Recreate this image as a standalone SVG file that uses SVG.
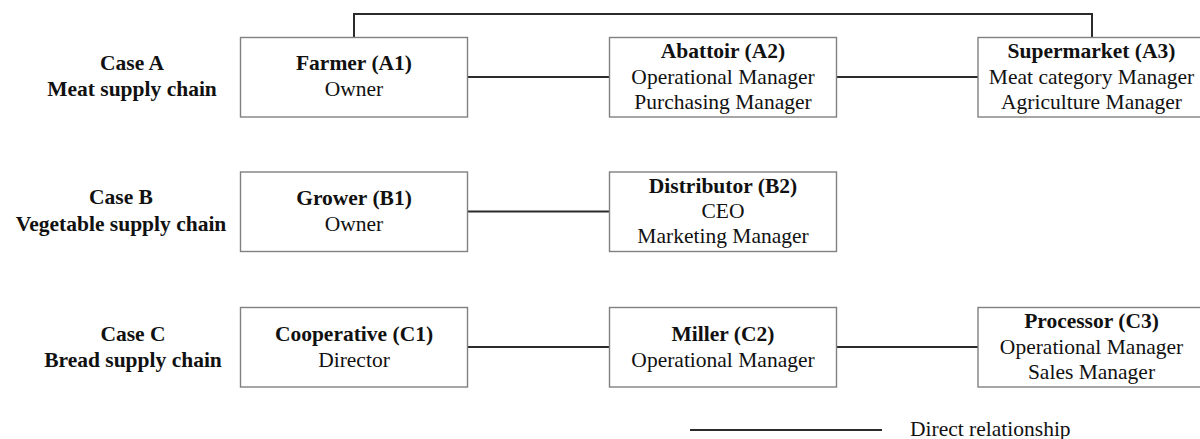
<svg xmlns="http://www.w3.org/2000/svg" width="1200" height="439" viewBox="0 0 1200 439">
<style>
  text { font-family: "Liberation Serif", "Times New Roman", serif; font-size: 21.5px; fill: #111; text-anchor: middle; }
  .b { font-weight: bold; }
  .box { fill: #fff; stroke: #808080; stroke-width: 1.4; }
  .conn { fill: none; stroke: #2b2b2b; stroke-width: 2; }
</style>
<rect width="1200" height="439" fill="#fff"/>
<g id="connectors">
  <polyline class="conn" points="354,37.5 354,14 1092,14 1092,37.5"/>
  <line class="conn" x1="467.5" y1="77" x2="609.5" y2="77"/>
  <line class="conn" x1="836.5" y1="77" x2="978" y2="77"/>
  <line class="conn" x1="467.5" y1="211.5" x2="609.5" y2="211.5"/>
  <line class="conn" x1="467.5" y1="347" x2="609.5" y2="347"/>
  <line class="conn" x1="836.5" y1="347" x2="978" y2="347"/>
</g>
<g id="labelA">
  <text class="b" x="132" y="70">Case A</text>
  <text class="b" x="132" y="96">Meat supply chain</text>
</g>
<g id="labelB">
  <text class="b" x="121" y="204">Case B</text>
  <text class="b" x="121" y="231">Vegetable supply chain</text>
</g>
<g id="labelC">
  <text class="b" x="133" y="341">Case C</text>
  <text class="b" x="133" y="367">Bread supply chain</text>
</g>
<g id="A1">
  <rect class="box" x="240.5" y="37.5" width="227" height="79.5"/>
  <text class="b" x="354" y="70">Farmer (A1)</text>
  <text x="354" y="96">Owner</text>
</g>
<g id="A2">
  <rect class="box" x="609.5" y="37.5" width="227" height="79.5"/>
  <text class="b" x="723" y="58">Abattoir (A2)</text>
  <text x="723" y="83.5">Operational Manager</text>
  <text x="723" y="108.5">Purchasing Manager</text>
</g>
<g id="A3">
  <rect class="box" x="978" y="37.5" width="227" height="79.5"/>
  <text class="b" x="1091.5" y="58">Supermarket (A3)</text>
  <text x="1091.5" y="83.5">Meat category Manager</text>
  <text x="1091.5" y="108.5">Agriculture Manager</text>
</g>
<g id="B1">
  <rect class="box" x="240.5" y="172" width="227" height="79.5"/>
  <text class="b" x="354" y="204.5">Grower (B1)</text>
  <text x="354" y="230.5">Owner</text>
</g>
<g id="B2">
  <rect class="box" x="609.5" y="172" width="227" height="79.5"/>
  <text class="b" x="723" y="192.5">Distributor (B2)</text>
  <text x="723" y="218">CEO</text>
  <text x="723" y="243">Marketing Manager</text>
</g>
<g id="C1">
  <rect class="box" x="240.5" y="307.5" width="227" height="79.5"/>
  <text class="b" x="354" y="340.5">Cooperative (C1)</text>
  <text x="354" y="366.5">Director</text>
</g>
<g id="C2">
  <rect class="box" x="609.5" y="307.5" width="227" height="79.5"/>
  <text class="b" x="723" y="340.5">Miller (C2)</text>
  <text x="723" y="366.5">Operational Manager</text>
</g>
<g id="C3">
  <rect class="box" x="978" y="307.5" width="227" height="79.5"/>
  <text class="b" x="1091.5" y="328">Processor (C3)</text>
  <text x="1091.5" y="353.5">Operational Manager</text>
  <text x="1091.5" y="378.5">Sales Manager</text>
</g>
<g id="legend">
  <line class="conn" x1="690" y1="430" x2="882" y2="430"/>
  <text x="910" y="436" style="text-anchor:start">Direct relationship</text>
</g>
</svg>
